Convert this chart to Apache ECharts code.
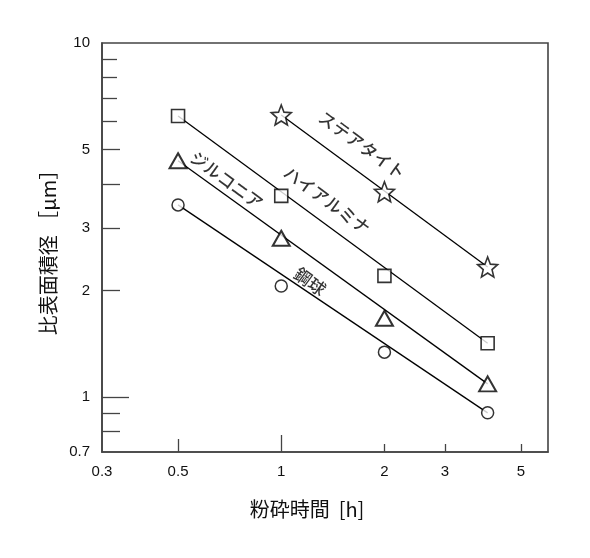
<!DOCTYPE html>
<html>
<head>
<meta charset="utf-8">
<script src="https://cdn.jsdelivr.net/npm/echarts@6/dist/echarts.min.js"></script>
<style>html,body{margin:0;padding:0;background:#fff}#c{width:590px;height:558px}</style>
</head>
<body>
<div id="c"></div>
<script>
// ---- data (raw values, log-log chart) ----
const timeX = [0.5, 1, 2, 4];
const steatiteX = [1, 2, 4];
const steatite = [6.26, 3.80, 2.33];
const highAlumina = [6.22, 3.70, 2.20, 1.42];
const zirconia = [4.65, 2.81, 1.67, 1.09];
const steelBall = [3.49, 2.06, 1.34, 0.903];
// fitted lines (start / end)
const steatiteFitX = [1, 4];
const steatiteFit = [6.26, 2.33];
const fitX = [0.5, 4];
const highAluminaFit = [6.22, 1.42];
const zirconiaFit = [4.65, 1.09];
const steelBallFit = [3.49, 0.903];
// annotation labels
const labelNames = ['ステアタイト', 'ハイアルミナ', 'ジルコニア', '鋼球'];
const labelX = [1.72, 1.36, 0.693, 1.213];
const labelY = [5.15, 3.60, 4.10, 2.12];
// ticks
const xLabelVals = [0.3, 0.5, 1, 2, 3, 5];
const xMin = 0.3, xMax = 6;
const yLabelVals = [0.7, 1, 2, 3, 5, 10];
const yMin = 0.7, yMax = 10;

const L = Math.log10;
const pairs = (xs, ys) => ys.map((y, i) => [L(xs[i]), L(y)]);
const fmt = v => String(Number(Math.pow(10, v).toPrecision(3)));

const starPath = 'path://M50,0L62.93,32.2L97.55,34.55L70.92,56.8L79.39,90.45L50,72L20.61,90.45L29.08,56.8L2.45,34.55L37.07,32.2Z';
const axisColor = '#444';
const numFont = 'Liberation Sans, Arial, sans-serif';
const jpFont = 'Noto Sans CJK JP, sans-serif';

function xAxisDef(tickVals, len, main) {
  return {
    type: 'value', min: L(xMin), max: L(xMax), position: 'bottom', gridIndex: 0,
    axisLine: { show: main, onZero: false, lineStyle: { color: axisColor, width: 1.6 } },
    axisTick: { show: true, inside: true, length: len, customValues: tickVals.map(L), lineStyle: { color: axisColor, width: 1.3 } },
    axisLabel: main ? { show: true, customValues: xLabelVals.map(L), formatter: fmt, color: '#111', fontSize: 15, fontFamily: numFont, margin: 12 } : { show: false },
    splitLine: { show: false },
    name: main ? '粉砕時間  [h]' : '',
    nameLocation: 'middle', nameGap: 47,
    nameTextStyle: { fontSize: 20, color: '#111', fontFamily: jpFont, padding: [0, 36, 0, 0] }
  };
}
function yAxisDef(tickVals, len, main) {
  return {
    type: 'value', min: L(yMin), max: L(yMax), position: 'left', gridIndex: 0,
    axisLine: { show: main, onZero: false, lineStyle: { color: axisColor, width: 1.6 } },
    axisTick: { show: true, inside: true, length: len, customValues: tickVals.map(L), lineStyle: { color: axisColor, width: 1.3 } },
    axisLabel: main ? { show: true, customValues: yLabelVals.map(L), formatter: fmt, color: '#111', fontSize: 15, fontFamily: numFont, margin: 12 } : { show: false },
    splitLine: { show: false },
    name: main ? '比表面積径 ［μm］' : '',
    nameLocation: 'middle', nameGap: 44, nameRotate: 90,
    nameTextStyle: { fontSize: 20, color: '#111', fontFamily: jpFont, padding: [0, 0, 0, 0] }
  };
}

const lineSeries = (xs, ys) => ({
  type: 'line', data: pairs(xs, ys), symbol: 'none', z: 2,
  lineStyle: { color: '#000', width: 1.3 }, silent: true
});
const markSeries = (xs, ys, symbol, size, bw) => ({
  type: 'scatter', data: pairs(xs, ys), symbol: symbol, symbolSize: size, z: 5,
  itemStyle: { color: '#fff', borderColor: '#000', borderWidth: bw }
});

const chart = echarts.init(document.getElementById('c'));
chart.setOption({
  animation: false,
  backgroundColor: '#fff',
  grid: { left: 102, right: 42, top: 43, bottom: 106, show: true, borderColor: axisColor, borderWidth: 1.6, containLabel: false },
  xAxis: [
    xAxisDef([0.5], 13, true),
    xAxisDef([1], 17, false),
    xAxisDef([2, 3, 5], 8, false)
  ],
  yAxis: [
    yAxisDef([5, 4, 3, 2, 0.9, 0.8], 18, true),
    yAxisDef([9, 8, 7, 6], 15, false),
    yAxisDef([1], 27, false)
  ],
  series: [
    lineSeries(steatiteFitX, steatiteFit),
    lineSeries(fitX, highAluminaFit),
    lineSeries(fitX, zirconiaFit),
    lineSeries(fitX, steelBallFit),
    markSeries(steatiteX, steatite, starPath, 20, 1.6),
    markSeries(timeX, highAlumina, 'rect', 13, 1.6),
    markSeries(timeX, zirconia, 'triangle', [17, 15], 2),
    markSeries(timeX, steelBall, 'circle', 12, 1.5),
    {
      type: 'scatter', symbol: 'circle', symbolSize: 1, z: 6, silent: true,
      itemStyle: { color: 'rgba(0,0,0,0)' },
      data: labelNames.map((n, i) => ({ name: n, value: [L(labelX[i]), L(labelY[i])] })),
      label: { show: true, position: 'inside', formatter: '{b}', rotate: -36, fontSize: 17, fontWeight: 500, color: '#000', fontFamily: jpFont }
    }
  ]
});
</script>
</body>
</html>
